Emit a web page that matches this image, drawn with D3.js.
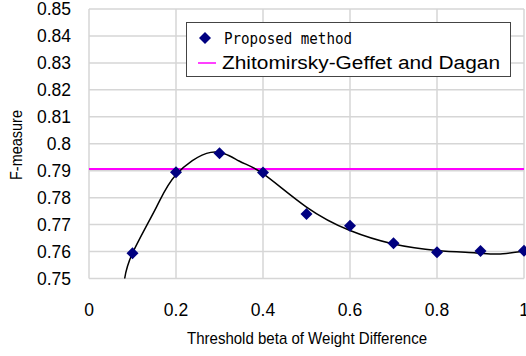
<!DOCTYPE html>
<html lang="en">
  <head>
    <meta charset="UTF-8" />
    <title>F-measure vs threshold</title>
    <script src="https://d3js.org/d3.v7.min.js"></script>
    <style>
      html, body { margin: 0; padding: 0; background: #fff; }
      svg { display: block; }
    </style>
  </head>
  <body>
    <div id="graph"></div>
    <script>
      // data
      var thresholds = [0.1, 0.2, 0.3, 0.4, 0.5, 0.6, 0.7, 0.8, 0.9, 1.0];
      var proposed = [0.7594, 0.7894, 0.7965, 0.7893, 0.7739, 0.7696, 0.7631, 0.7597, 0.7602, 0.7603];
      var baseline = 0.7906;
      // trend curve
      var trendX = [0.082, 0.10, 0.155, 0.20, 0.28, 0.345, 0.40, 0.50, 0.60, 0.70, 0.80, 0.89, 0.94, 1.0];
      var trendY = [0.750, 0.7594, 0.7765, 0.7885, 0.7968, 0.7936, 0.7889, 0.7765, 0.7678, 0.7628, 0.7604, 0.7595, 0.7591, 0.7601];
      var xTicks = [0, 0.2, 0.4, 0.6, 0.8, 1];
      var yTicks = [0.75, 0.76, 0.77, 0.78, 0.79, 0.8, 0.81, 0.82, 0.83, 0.84, 0.85];
      var seriesNames = ["Proposed method", "Zhitomirsky-Geffet and Dagan"];

      var W = 526, H = 356;
      var svg = d3.select("#graph").append("svg")
        .attr("width", W).attr("height", H);

      var x = d3.scaleLinear().domain([0, 1]).range([89, 524]);
      var y = d3.scaleLinear().domain([0.75, 0.85]).range([278.5, 9]);

      // grid
      svg.append("g").selectAll("line").data(yTicks).enter().append("line")
        .attr("x1", x(0)).attr("x2", x(1))
        .attr("y1", d => y(d)).attr("y2", d => y(d))
        .attr("stroke", "#d6d6d6").attr("stroke-width", 1.5);
      svg.append("g").selectAll("line").data(xTicks).enter().append("line")
        .attr("x1", d => x(d)).attr("x2", d => x(d))
        .attr("y1", y(0.75)).attr("y2", y(0.85))
        .attr("stroke", "#d6d6d6").attr("stroke-width", 1.5);

      // y tick labels
      svg.append("g").selectAll("text").data(yTicks).enter().append("text")
        .attr("x", 71).attr("y", d => y(d))
        .attr("dy", "0.36em")
        .attr("text-anchor", "end")
        .style("font-family", "'Liberation Sans', Arial, sans-serif")
        .style("font-size", "17.5px")
        .text(d => d3.format("")(d));

      // x tick labels
      svg.append("g").selectAll("text").data(xTicks).enter().append("text")
        .attr("x", d => x(d)).attr("y", 310)
        .attr("dy", "0.36em")
        .attr("text-anchor", "middle")
        .style("font-family", "'Liberation Sans', Arial, sans-serif")
        .style("font-size", "17.5px")
        .text(d => d3.format("")(d));

      // axis titles
      svg.append("text")
        .attr("x", 307).attr("y", 338).attr("dy", "0.36em")
        .attr("text-anchor", "middle")
        .attr("textLength", 240).attr("lengthAdjust", "spacingAndGlyphs")
        .style("font-family", "'Liberation Sans Narrow', 'Liberation Sans', Arial, sans-serif")
        .style("font-size", "17px")
        .text("Threshold beta of Weight Difference");

      svg.append("text")
        .attr("transform", "translate(16,145) rotate(-90)")
        .attr("dy", "0.36em")
        .attr("text-anchor", "middle")
        .attr("textLength", 70).attr("lengthAdjust", "spacingAndGlyphs")
        .style("font-family", "'Liberation Sans Narrow', 'Liberation Sans', Arial, sans-serif")
        .style("font-size", "17px")
        .text("F-measure");

      // baseline
      svg.append("line")
        .attr("x1", x(0)).attr("x2", x(1))
        .attr("y1", y(baseline)).attr("y2", y(baseline))
        .attr("stroke", "#ff00ff").attr("stroke-width", 2);

      // trend curve
      var trend = trendX.map((d, i) => [d, trendY[i]]);
      svg.append("path")
        .datum(trend)
        .attr("fill", "none")
        .attr("stroke", "#000")
        .attr("stroke-width", 1.5)
        .attr("d", d3.line().x(d => x(d[0])).y(d => y(d[1])).curve(d3.curveNatural));

      // markers
      var diamond = d3.symbol().type(d3.symbolSquare).size(72);
      svg.append("g").selectAll("path").data(thresholds).enter().append("path")
        .attr("d", diamond)
        .attr("transform", (d, i) => "translate(" + x(d) + "," + y(proposed[i]) + ") rotate(45)")
        .attr("fill", "#000080");

      // legend
      var lg = svg.append("g");
      lg.append("rect")
        .attr("x", 186.5).attr("y", 22.5).attr("width", 324).attr("height", 54)
        .attr("fill", "#fff").attr("stroke", "#444").attr("stroke-width", 1);
      lg.append("path")
        .attr("d", diamond)
        .attr("transform", "translate(205,38) rotate(45)")
        .attr("fill", "#000080");
      lg.append("text")
        .attr("x", 224).attr("y", 38).attr("dy", "0.36em")
        .attr("textLength", 128).attr("lengthAdjust", "spacingAndGlyphs")
        .style("font-family", "'DejaVu Sans Mono', 'Liberation Mono', monospace")
        .style("font-size", "16px")
        .text(seriesNames[0]);
      lg.append("line")
        .attr("x1", 198).attr("x2", 216).attr("y1", 63).attr("y2", 63)
        .attr("stroke", "#ff00ff").attr("stroke-width", 1.5);
      lg.append("text")
        .attr("x", 222).attr("y", 63).attr("dy", "0.36em")
        .attr("textLength", 278).attr("lengthAdjust", "spacingAndGlyphs")
        .style("font-family", "'Liberation Sans', Arial, sans-serif")
        .style("font-size", "18px")
        .text(seriesNames[1]);
    </script>
  </body>
</html>
